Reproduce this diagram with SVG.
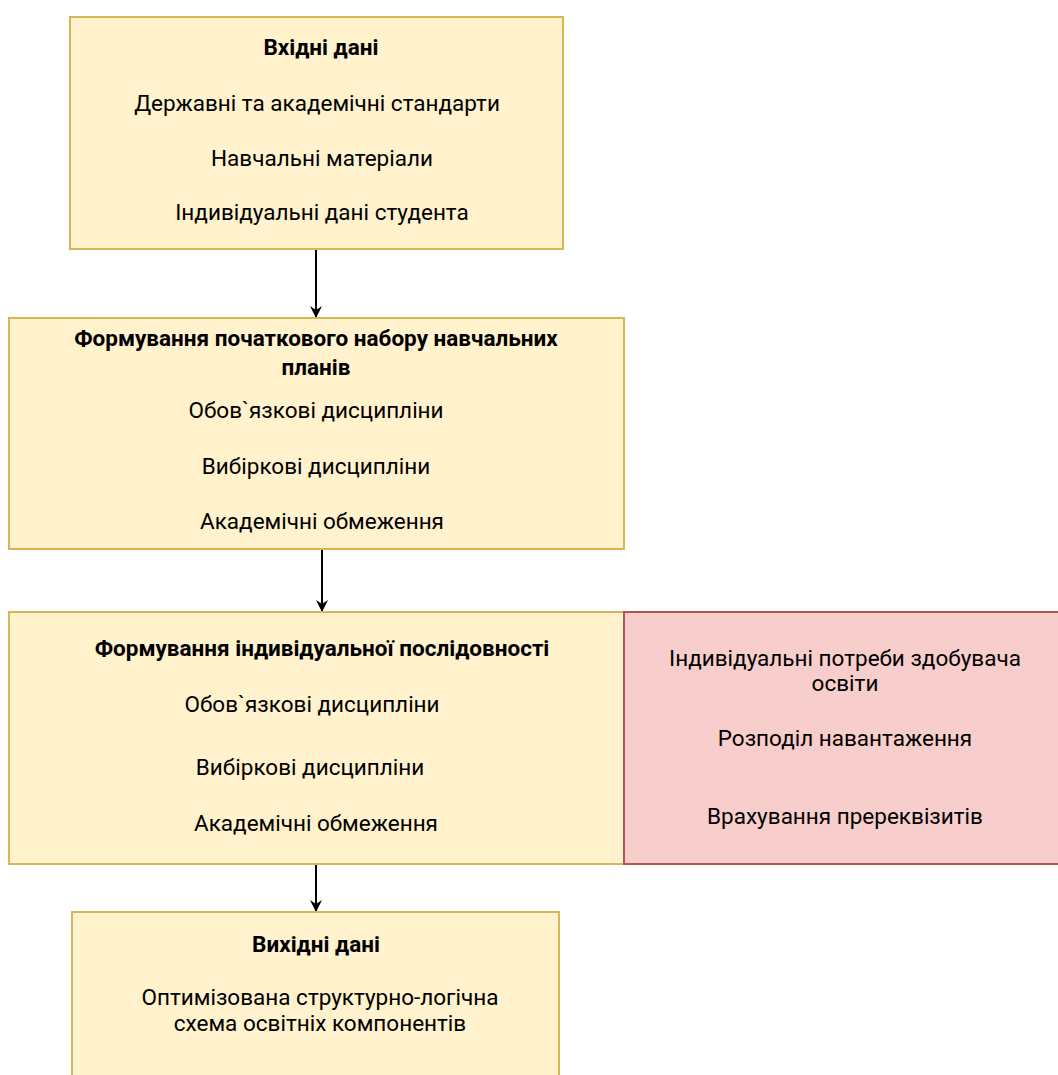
<svg xmlns="http://www.w3.org/2000/svg" width="1058" height="1075" viewBox="0 0 1058 1075">
<defs>
<style>
.y{fill:#fff2cc;stroke:#d6b656;stroke-width:2}
.r{fill:#f8cecc;stroke:#b85450;stroke-width:2}
text{font-family:Roboto,"Noto Sans",sans-serif;font-size:22.5px;fill:#000;text-anchor:middle}
.b{font-weight:bold}
.c{stroke:#000;stroke-width:2;fill:none}
</style>
<marker id="a" viewBox="0 0 12 12" refX="11" refY="6" markerWidth="12" markerHeight="12" orient="auto" markerUnits="userSpaceOnUse">
<path d="M0,0 L12,6 L0,12 L4,6 Z" fill="#000"/>
</marker>
</defs>
<rect width="1058" height="1075" fill="#fff"/>
<g id="connectors">
<path class="c" d="M316,250 V317" marker-end="url(#a)"/>
<path class="c" d="M322,550 V611" marker-end="url(#a)"/>
<path class="c" d="M316,865 V911" marker-end="url(#a)"/>
</g>
<g id="input">
<rect class="y" x="70" y="17" width="493" height="232"/>
<text x="321" y="55" class="b">Вхідні дані</text>
<text x="317" y="111">Державні та академічні стандарти</text>
<text x="322" y="166">Навчальні матеріали</text>
<text x="322" y="220">Індивідуальні дані студента</text>
</g>
<g id="initial">
<rect class="y" x="9" y="318" width="615" height="231"/>
<text x="316" y="346" class="b">Формування початкового набору навчальних</text>
<text x="316" y="375" class="b">планів</text>
<text x="316" y="418">Обов`язкові дисципліни</text>
<text x="316" y="474">Вибіркові дисципліни</text>
<text x="322" y="529">Академічні обмеження</text>
</g>
<g id="sequence">
<rect class="y" x="9" y="612" width="615" height="252"/>
<text x="322" y="656" class="b">Формування індивідуальної послідовності</text>
<text x="312" y="712">Обов`язкові дисципліни</text>
<text x="310" y="775">Вибіркові дисципліни</text>
<text x="316" y="831">Академічні обмеження</text>
</g>
<g id="needs">
<rect class="r" x="624" y="612" width="440" height="252"/>
<text x="845" y="666">Індивідуальні потреби здобувача</text>
<text x="845" y="691">освіти</text>
<text x="845" y="746">Розподіл навантаження</text>
<text x="845" y="824">Врахування пререквізитів</text>
</g>
<g id="output">
<rect class="y" x="72" y="912" width="487" height="180"/>
<text x="316" y="952" class="b">Вихідні дані</text>
<text x="320" y="1005">Оптимізована структурно-логічна</text>
<text x="320" y="1031">схема освітніх компонентів</text>
</g>
</svg>
